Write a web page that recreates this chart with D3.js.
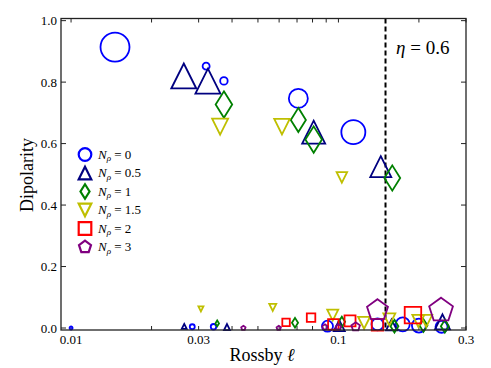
<!DOCTYPE html>
<html>
<head>
<meta charset="utf-8">
<script src="https://cdn.jsdelivr.net/npm/d3@7"></script>
<style>
    body { margin: 0; background: #fff; }
    text { font-family: "Liberation Serif", "DejaVu Serif", serif; fill: #000; }
</style>
</head>
<body>
<div id="chart"></div>
<script>
// N_rho groups, one series each: Rossby, dipolarity, marker size (pt-ish)
const groups = ['0', '0.5', '1', '1.5', '2', '3'];

const ro0 = [0.0146, 0.032, 0.0373, 0.0708, 0.1137, 0.01, 0.0284, 0.0341, 0.091, 0.140, 0.174, 0.200, 0.243];
const dip0 = [0.914, 0.852, 0.804, 0.747, 0.637, 0.0, 0.004, 0.004, 0.006, 0.012, 0.012, 0.008, 0.004];
const ms0 = [29, 7, 7.5, 19, 24, 3, 5, 5.5, 11, 12, 14, 14, 12];

const ro05 = [0.0264, 0.0325, 0.0808, 0.144, 0.0265, 0.0383, 0.1007, 0.158, 0.245];
const dip05 = [0.82, 0.803, 0.637, 0.525, 0.005, 0.003, 0.008, 0.01, 0.02];
const ms05 = [25, 25, 23, 21, 5, 6, 11, 11, 15];

const ro1 = [0.0373, 0.0708, 0.0808, 0.159, 0.0352, 0.0688, 0.103, 0.162, 0.208, 0.25];
const dip1 = [0.727, 0.677, 0.613, 0.488, 0.015, 0.017, 0.02, 0.006, 0.008, 0.006];
const ms1 = [23, 21, 23, 22, 5, 8.5, 9, 11, 11, 11];

const ro15 = [0.0361, 0.0615, 0.103, 0.0306, 0.0568, 0.0952, 0.1247, 0.155, 0.199, 0.213];
const dip15 = [0.655, 0.655, 0.49, 0.062, 0.067, 0.042, 0.017, 0.028, 0.023, 0.023];
const ms15 = [16, 15.5, 10.5, 5, 7, 11, 12, 12, 12, 12];

const ro2 = [0.0637, 0.079, 0.0957, 0.1105, 0.140, 0.19];
const dip2 = [0.018, 0.034, 0.012, 0.023, 0.01, 0.042];
const ms2 = [7.5, 8.5, 10.5, 11, 11.5, 16.5];

const ro3 = [0.0441, 0.0598, 0.089, 0.10, 0.116, 0.140, 0.242];
const dip3 = [0.0, 0.0, 0.003, 0.003, 0.004, 0.058, 0.058];
const ms3 = [4.5, 4.5, 5.5, 5.5, 9, 22, 25];

const yTicks = [0, 0.2, 0.4, 0.6, 0.8, 1.0];
const xTickLabels = [0.01, 0.03, 0.1, 0.3];
const etaLine = 0.15;

const series = [
    { x: ro0, y: dip0, s: ms0, shape: 'circle', color: '#0000ff' },
    { x: ro05, y: dip05, s: ms05, shape: 'triup', color: '#000080' },
    { x: ro1, y: dip1, s: ms1, shape: 'diamond', color: '#008000' },
    { x: ro15, y: dip15, s: ms15, shape: 'tridown', color: '#bfbf00' },
    { x: ro2, y: dip2, s: ms2, shape: 'square', color: '#ff0000' },
    { x: ro3, y: dip3, s: ms3, shape: 'pentagon', color: '#800080' }
];

const w = 491,
    h = 368,
    pLeft = 61, pRight = 466, pTop = 18.5, pBottom = 330;

const svg = d3.select('#chart')
    .append('svg')
    .attr('width', w)
    .attr('height', h);

const xScale = d3.scaleLog()
    .domain([0.00917, 0.3])
    .range([pLeft, pRight]);

const yScale = d3.scaleLinear()
    .domain([-0.0065, 1.007])
    .range([pBottom, pTop]);

const rScale = d3.scaleLinear().domain([0, 30]).range([0, 15]);

function shapePath(shape, r) {
    const p = d3.path();
    if (shape === 'circle') {
        p.arc(0, 0, r, 0, 2 * Math.PI);
    } else if (shape === 'triup') {
        p.moveTo(0, -r); p.lineTo(r, r); p.lineTo(-r, r); p.closePath();
    } else if (shape === 'tridown') {
        p.moveTo(0, r); p.lineTo(r, -r); p.lineTo(-r, -r); p.closePath();
    } else if (shape === 'diamond') {
        p.moveTo(0, -1.15 * r); p.lineTo(0.72 * r, 0); p.lineTo(0, 1.15 * r); p.lineTo(-0.72 * r, 0); p.closePath();
    } else if (shape === 'square') {
        p.rect(-r, -r, 2 * r, 2 * r);
    } else {
        for (let i = 0; i < 5; i++) {
            const a = -Math.PI / 2 + i * 2 * Math.PI / 5;
            if (i === 0) p.moveTo(r * Math.cos(a), r * Math.sin(a));
            else p.lineTo(r * Math.cos(a), r * Math.sin(a));
        }
        p.closePath();
    }
    return p.toString();
}

// ticks (inside, all four sides)
const minor = [];
[0.01, 0.1].forEach(d => { for (let k = 1; k < 10; k++) if (d * k >= 0.0095 && d * k <= 0.3) minor.push(d * k); });
minor.push(0.3);

const tickG = svg.append('g').attr('stroke', '#222').attr('stroke-width', 1);
tickG.selectAll('.xb').data(minor).enter().append('line')
    .attr('x1', d => xScale(d)).attr('x2', d => xScale(d))
    .attr('y1', pBottom).attr('y2', pBottom - 4);
tickG.selectAll('.xt').data(minor).enter().append('line')
    .attr('x1', d => xScale(d)).attr('x2', d => xScale(d))
    .attr('y1', pTop).attr('y2', pTop + 4);
tickG.selectAll('.yl').data(yTicks).enter().append('line')
    .attr('x1', pLeft).attr('x2', pLeft + 5)
    .attr('y1', d => yScale(d)).attr('y2', d => yScale(d));
tickG.selectAll('.yr').data(yTicks).enter().append('line')
    .attr('x1', pRight).attr('x2', pRight - 5)
    .attr('y1', d => yScale(d)).attr('y2', d => yScale(d));

svg.selectAll('.ylab').data(yTicks).enter().append('text')
    .attr('x', pLeft - 4)
    .attr('y', d => yScale(d) + 4.5)
    .attr('text-anchor', 'end')
    .attr('font-size', 13)
    .text(d => d.toFixed(1));

svg.selectAll('.xlab').data(xTickLabels).enter().append('text')
    .attr('x', d => xScale(d))
    .attr('y', pBottom + 14)
    .attr('text-anchor', 'middle')
    .attr('font-size', 13)
    .text(d => d);

// dashed line
svg.append('line')
    .attr('x1', xScale(etaLine)).attr('x2', xScale(etaLine))
    .attr('y1', pTop).attr('y2', pBottom)
    .attr('stroke', '#000')
    .attr('stroke-width', 2)
    .attr('stroke-dasharray', '5,3');

// markers
series.forEach(s => {
    svg.append('g').selectAll('path')
        .data(s.x.map((d, i) => [d, s.y[i], s.s[i]]))
        .enter()
        .append('path')
        .attr('transform', d => `translate(${xScale(d[0])},${yScale(d[1])})`)
        .attr('d', d => shapePath(s.shape, rScale(d[2])))
        .attr('fill', 'none')
        .attr('stroke', s.color)
        .attr('stroke-width', 1.8);
});

// frame
svg.append('rect')
    .attr('x', pLeft).attr('y', pTop)
    .attr('width', pRight - pLeft).attr('height', pBottom - pTop)
    .attr('fill', 'none')
    .attr('stroke', '#222')
    .attr('stroke-width', 1.3);

// legend
const leg = svg.append('g');
series.forEach((s, i) => {
    const y = 154.5 + i * 18.5;
    leg.append('path')
        .attr('transform', `translate(85,${y})`)
        .attr('d', shapePath(s.shape, 6.3))
        .attr('fill', 'none')
        .attr('stroke', s.color)
        .attr('stroke-width', 2.2);
    const t = leg.append('text')
        .attr('x', 98)
        .attr('y', y + 4)
        .attr('font-size', 13);
    t.append('tspan').attr('font-style', 'italic').text('N');
    t.append('tspan').attr('font-style', 'italic').attr('font-size', 9).attr('dy', 2.5).text('ρ');
    t.append('tspan').attr('dy', -2.5).text(' = ' + groups[i]);
});

// eta label
const eta = svg.append('text')
    .attr('x', 396)
    .attr('y', 54)
    .attr('font-size', 19);
eta.append('tspan').attr('font-style', 'italic').text('η');
eta.append('tspan').text(' = 0.6');

svg.append('text')
    .attr('x', 262)
    .attr('y', 361)
    .attr('text-anchor', 'middle')
    .attr('font-size', 18)
    .html('Rossby <tspan font-style="italic">ℓ</tspan>');

svg.append('text')
    .attr('transform', 'translate(33,175) rotate(-90)')
    .attr('text-anchor', 'middle')
    .attr('font-size', 18)
    .text('Dipolarity');
</script>
</body>
</html>
